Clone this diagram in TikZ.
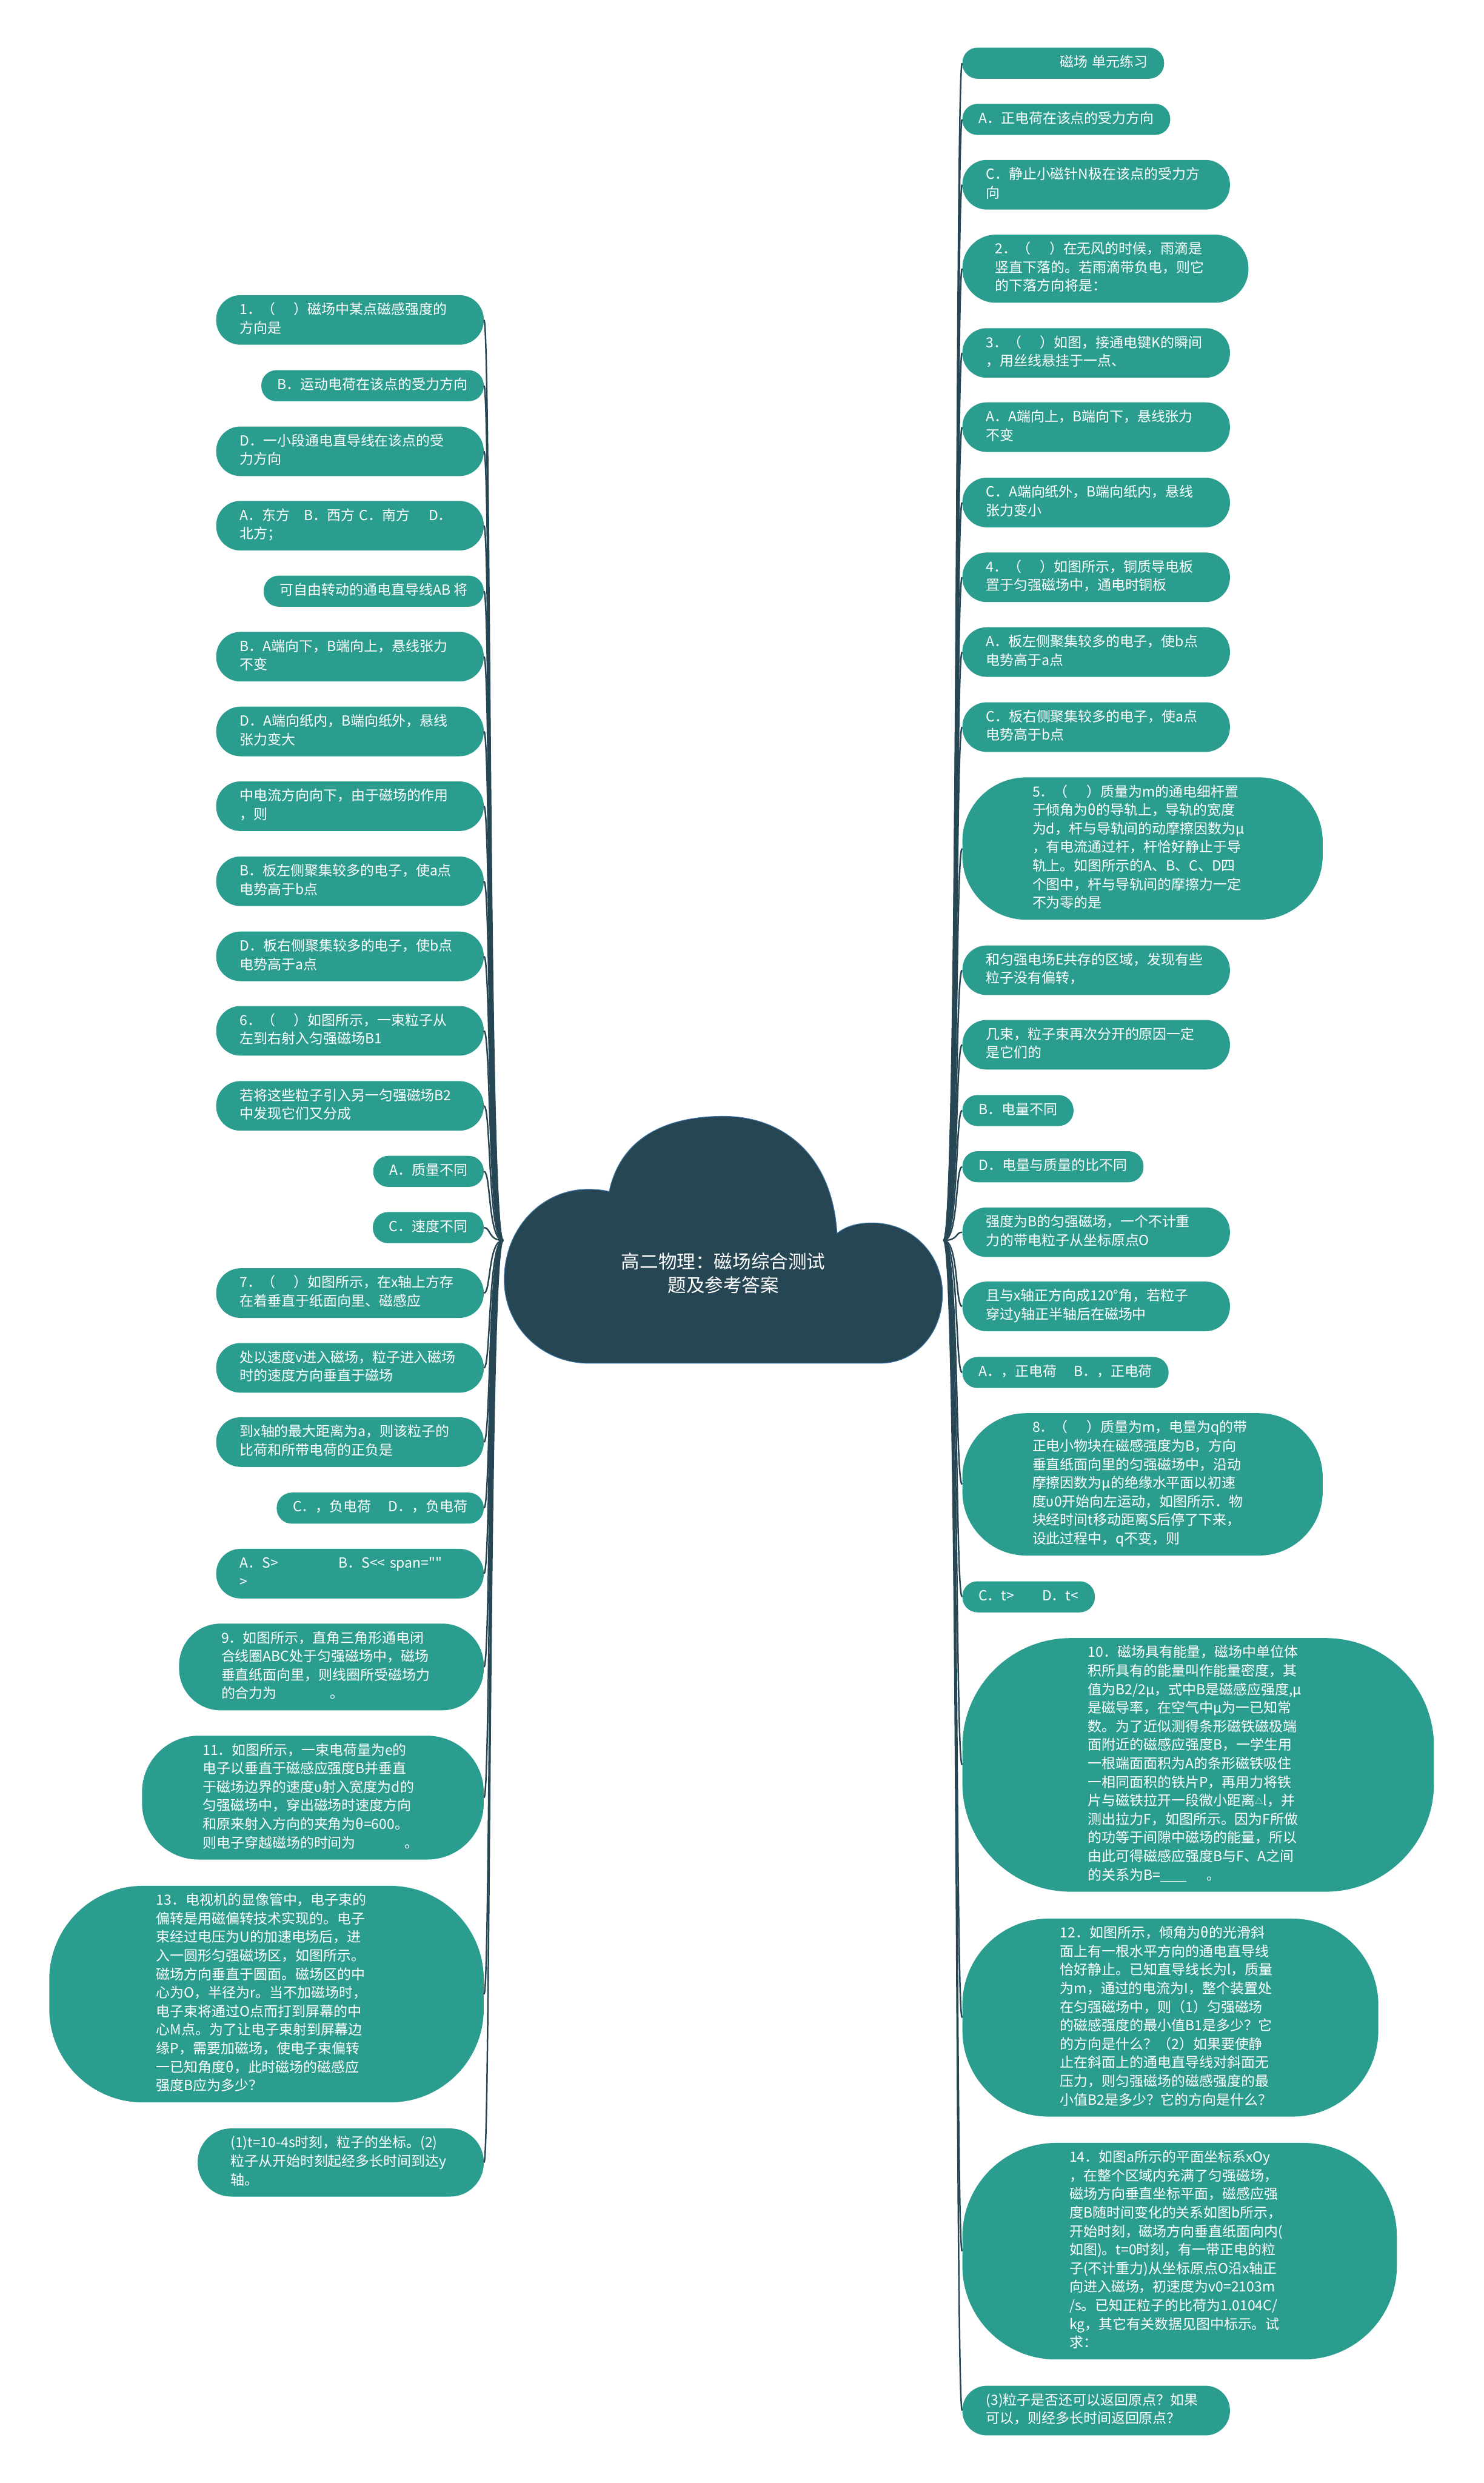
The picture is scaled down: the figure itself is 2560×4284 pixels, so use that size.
\documentclass[tikz,border=0pt]{standalone}
\usepackage{fontspec}
\usepackage{xcolor}
\newfontfamily\cjk{Noto Sans CJK SC}
\definecolor{leafteal}{HTML}{2A9D8F}
\definecolor{trunkblue}{HTML}{264653}
\definecolor{cloudrim}{HTML}{3B6FA0}
\newcommand{\leaffont}{\cjk\fontsize{12pt}{16pt}\selectfont}
\newcommand{\rootfont}{\cjk\fontsize{16pt}{20.5pt}\selectfont}
\tikzset{
  bubble/.style={fill=leafteal, text=white, font=\leaffont, inner ysep=5.4pt,
    execute at begin node=\strut, execute at end node=\strut},
  chip/.style={bubble, inner xsep=14pt, rounded corners=13pt},
  leaf/.style={bubble, align=left, text width=190pt, inner xsep={8pt*#1+4.4pt},
    rounded corners={min(8*#1+5,6.4*#1+10.3)*1pt}},
  twig/.style={draw=trunkblue, line width=1.3pt}
}

\begin{document}
\begin{tikzpicture}[x=0.5pt, y=-0.5pt]
\useasboundingbox (0,0) rectangle (2560,4284);

% root cloud
\filldraw[fill=trunkblue, draw=cloudrim, line width=0.6pt] (1051,2056)
  .. controls (1072,1958) and (1156,1926) .. (1248,1926)
  .. controls (1352,1926) and (1436,1994) .. (1444,2128)
  .. controls (1462,2114) and (1482,2110) .. (1505,2110)
  .. controls (1574,2110) and (1626,2164) .. (1626,2232)
  .. controls (1626,2300) and (1580,2352) .. (1518,2352)
  -- (1016,2352)
  .. controls (936,2352) and (870,2290) .. (870,2208)
  .. controls (870,2118) and (936,2052) .. (1014,2052)
  .. controls (1028,2052) and (1040,2053) .. (1051,2056) -- cycle;
\node[text=white, font=\rootfont, align=center] (title) at (1248,2197) {高二物理：磁场综合测试\\题及参考答案};
\coordinate (rootL) at (868,2140);
\coordinate (rootR) at (1628,2140);

% left branch
\node[leaf=2, anchor=east] (L1) at (835,552) {1．（　 ）磁场中某点磁感强度的\\方向是};
\node[chip, anchor=east] (L2) at (835,665.5) {B．运动电荷在该点的受力方向};
\node[leaf=2, anchor=east] (L3) at (835,778.6) {D．一小段通电直导线在该点的受\\力方向};
\node[leaf=2, anchor=east] (L4) at (835,907) {A．东方　B．西方 C．南方　 D．\\北方；};
\node[chip, anchor=east] (L5) at (835,1020) {可自由转动的通电直导线AB 将};
\node[leaf=2, anchor=east] (L6) at (835,1133) {B．A端向下，B端向上，悬线张力\\不变};
\node[leaf=2, anchor=east] (L7) at (835,1262) {D．A端向纸内，B端向纸外，悬线\\张力变大};
\node[leaf=2, anchor=east] (L8) at (835,1391) {中电流方向向下，由于磁场的作用\\，则};
\node[leaf=2, anchor=east] (L9) at (835,1520.5) {B．板左侧聚集较多的电子，使a点\\电势高于b点};
\node[leaf=2, anchor=east] (L10) at (835,1650) {D．板右侧聚集较多的电子，使b点\\电势高于a点};
\node[leaf=2, anchor=east] (L11) at (835,1778.5) {6．（　 ）如图所示，一束粒子从\\左到右射入匀强磁场B1};
\node[leaf=2, anchor=east] (L12) at (835,1908) {若将这些粒子引入另一匀强磁场B2\\中发现它们又分成};
\node[chip, anchor=east] (L13) at (835,2021) {A．质量不同};
\node[chip, anchor=east] (L14) at (835,2118) {C．速度不同};
\node[leaf=2, anchor=east] (L15) at (835,2231) {7．（　 ）如图所示，在x轴上方存\\在着垂直于纸面向里、磁感应};
\node[leaf=2, anchor=east] (L16) at (835,2360) {处以速度v进入磁场，粒子进入磁场\\时的速度方向垂直于磁场};
\node[leaf=2, anchor=east] (L17) at (835,2488) {到x轴的最大距离为a，则该粒子的\\比荷和所带电荷的正负是};
\node[chip, anchor=east] (L18) at (835,2602) {C．，负电荷　 D．，负电荷};
\node[leaf=2, anchor=east] (L19) at (835,2715) {A．S>\hspace{52pt}B．S<< span=""\\>};
\node[leaf=4, anchor=east] (L20) at (835,2876) {9．如图所示，直角三角形通电闭\\合线圈ABC处于匀强磁场中，磁场\\垂直纸面向里，则线圈所受磁场力\\的合力为\hspace{46pt}。};
\node[leaf=6, anchor=east] (L21) at (835,3101.5) {11．如图所示，一束电荷量为e的\\电子以垂直于磁感应强度B并垂直\\于磁场边界的速度υ射入宽度为d的\\匀强磁场中，穿出磁场时速度方向\\和原来射入方向的夹角为θ=600。\\则电子穿越磁场的时间为\hspace{42pt}。};
\node[leaf=11, anchor=east] (L22) at (835,3440.5) {13．电视机的显像管中，电子束的\\偏转是用磁偏转技术实现的。电子\\束经过电压为U的加速电场后，进\\入一圆形匀强磁场区，如图所示。\\磁场方向垂直于圆面。磁场区的中\\心为O，半径为r。当不加磁场时，\\电子束将通过O点而打到屏幕的中\\心M点。为了让电子束射到屏幕边\\缘P，需要加磁场，使电子束偏转\\一已知角度θ，此时磁场的磁感应\\强度B应为多少？};
\node[leaf=3, anchor=east] (L23) at (835,3731) {(1)t=10-4s时刻，粒子的坐标。(2)\\粒子从开始时刻起经多长时间到达y\\轴。};

% right branch
\node[chip, anchor=west, text width=146pt, align=right] (R1) at (1660,109) {磁场 单元练习};
\node[chip, anchor=west] (R2) at (1660,206) {A．正电荷在该点的受力方向};
\node[leaf=2, anchor=west] (R3) at (1660,318.7) {C．静止小磁针N极在该点的受力方\\向};
\node[leaf=3, anchor=west] (R4) at (1660,463.6) {2．（　 ）在无风的时候，雨滴是\\竖直下落的。若雨滴带负电，则它\\的下落方向将是：};
\node[leaf=2, anchor=west] (R5) at (1660,609) {3．（　 ）如图，接通电键K的瞬间\\，用丝线悬挂于一点、};
\node[leaf=2, anchor=west] (R6) at (1660,737) {A．A端向上，B端向下，悬线张力\\不变};
\node[leaf=2, anchor=west] (R7) at (1660,867) {C．A端向纸外，B端向纸内，悬线\\张力变小};
\node[leaf=2, anchor=west] (R8) at (1660,996) {4．（　 ）如图所示，铜质导电板\\置于匀强磁场中，通电时铜板};
\node[leaf=2, anchor=west] (R9) at (1660,1125) {A．板左侧聚集较多的电子，使b点\\电势高于a点};
\node[leaf=2, anchor=west] (R10) at (1660,1254.5) {C．板右侧聚集较多的电子，使a点\\电势高于b点};
\node[leaf=7, anchor=west] (R11) at (1660,1464) {5．（　 ）质量为m的通电细杆置\\于倾角为θ的导轨上，导轨的宽度\\为d，杆与导轨间的动摩擦因数为μ\\，有电流通过杆，杆恰好静止于导\\轨上。如图所示的A、B、C、D四\\个图中，杆与导轨间的摩擦力一定\\不为零的是};
\node[leaf=2, anchor=west] (R12) at (1660,1674) {和匀强电场E共存的区域，发现有些\\粒子没有偏转，};
\node[leaf=2, anchor=west] (R13) at (1660,1802.5) {几束，粒子束再次分开的原因一定\\是它们的};
\node[chip, anchor=west] (R14) at (1660,1916) {B．电量不同};
\node[chip, anchor=west] (R15) at (1660,2013) {D．电量与质量的比不同};
\node[leaf=2, anchor=west] (R16) at (1660,2126) {强度为B的匀强磁场，一个不计重\\力的带电粒子从坐标原点O};
\node[leaf=2, anchor=west] (R17) at (1660,2254) {且与x轴正方向成120°角，若粒子\\穿过y轴正半轴后在磁场中};
\node[chip, anchor=west] (R18) at (1660,2368) {A．，正电荷　 B．，正电荷};
\node[leaf=7, anchor=west] (R19) at (1660,2561) {8．（　 ）质量为m，电量为q的带\\正电小物块在磁感强度为B，方向\\垂直纸面向里的匀强磁场中，沿动\\摩擦因数为μ的绝缘水平面以初速\\度υ0开始向左运动，如图所示．物\\块经时间t移动距离S后停了下来，\\设此过程中，q不变，则};
\node[chip, anchor=west] (R20) at (1660,2755) {C．t>　　D．t<};
\node[leaf=13, anchor=west] (R21) at (1660,3045) {10．磁场具有能量，磁场中单位体\\积所具有的能量叫作能量密度，其\\值为B2/2μ，式中B是磁感应强度,μ\\是磁导率，在空气中μ为一已知常\\数。为了近似测得条形磁铁磁极端\\面附近的磁感应强度B，一学生用\\一根端面面积为A的条形磁铁吸住\\一相同面积的铁片P，再用力将铁\\片与磁铁拉开一段微小距离\raisebox{1pt}{\fontsize{7pt}{7pt}\selectfont △}l，并\\测出拉力F，如图所示。因为F所做\\的功等于间隙中磁场的能量，所以\\由此可得磁感应强度B与F、A之间\\的关系为B=\rule[-1.5pt]{22pt}{0.6pt}\hspace{18pt}。};
\node[leaf=10, anchor=west] (R22) at (1660,3481) {12．如图所示，倾角为θ的光滑斜\\面上有一根水平方向的通电直导线\\恰好静止。已知直导线长为l，质量\\为m，通过的电流为I，整个装置处\\在匀强磁场中，则（1）匀强磁场\\的磁感强度的最小值B1是多少？它\\的方向是什么？（2）如果要使静\\止在斜面上的通电直导线对斜面无\\压力，则匀强磁场的磁感强度的最\\小值B2是多少？它的方向是什么？};
\node[leaf=11, anchor=west] (R23) at (1660,3884) {14．如图a所示的平面坐标系xOy\\，在整个区域内充满了匀强磁场，\\磁场方向垂直坐标平面，磁感应强\\度B随时间变化的关系如图b所示，\\开始时刻，磁场方向垂直纸面向内(\\如图)。t=0时刻，有一带正电的粒\\子(不计重力)从坐标原点O沿x轴正\\向进入磁场，初速度为v0=2103m\\/s。已知正粒子的比荷为1.0104C/\\kg，其它有关数据见图中标示。试\\求：};
\node[leaf=2, anchor=west] (R24) at (1660,4159) {(3)粒子是否还可以返回原点？如果\\可以，则经多长时间返回原点？};

% connectors
\foreach \i in {1,...,23}
  \draw[twig] (rootL) .. controls +(-26,0) and +(12,0) .. (L\i.east);
\foreach \i in {1,...,24}
  \draw[twig] (rootR) .. controls +(26,0) and +(-12,0) .. (R\i.west);
\end{tikzpicture}
\end{document}
